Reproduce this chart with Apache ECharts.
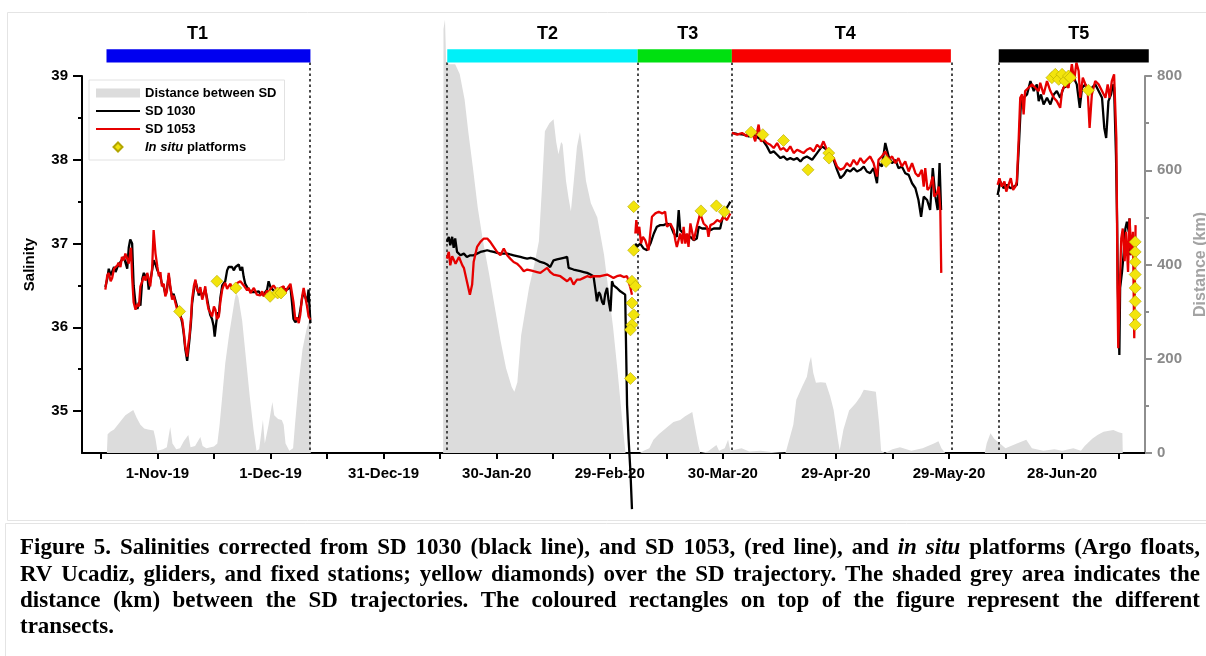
<!DOCTYPE html>
<html>
<head>
<meta charset="utf-8">
<script src="https://cdn.jsdelivr.net/npm/echarts@6/dist/echarts.min.js"></script>
<style>
html,body{margin:0;padding:0;background:#fff;}
#chart{width:1206px;height:656px;}
</style>
</head>
<body>
<div id="chart"></div>
<script>
// ---------------- DATA (x = days since 1-Nov-2019) ----------------
const tickDays = [-15,0,15,30,45,60,75,90,105,120,135,150,165,180,195,210,225,240,255];
const labelDays = [0,30,60,90,120,150,180,210,240];
const tickLabels = ['1-Nov-19','1-Dec-19','31-Dec-19','30-Jan-20','29-Feb-20','30-Mar-20','29-Apr-20','29-May-20','28-Jun-20'];

const transectNames = ['T1','T2','T3','T4','T5'];
const transectStart = [-13.5, 76.9, 127.4, 152.4, 223.2];
const transectEnd   = [40.6, 127.4, 152.4, 210.5, 263.0];
const boundaryDays  = [40.6, 76.9, 127.4, 152.4, 210.8, 223.2];

const salinityTicks = [35,36,37,38,39];
const salinityMinorTicks = [35.5,36.5,37.5,38.5];

const distance = [
 [-13.4,0],[-13.2,40],[-12.5,45],[-11.5,50],[-10.5,60],[-9.5,70],[-8.5,80],[-6.4,91],[-5.5,75],[-4.5,60],[-3.5,52],[-2.5,50],[-1.0,48],[-0.5,30],[0,5],[1.5,8],[2.5,12],[3.4,55],[4.0,20],[5,8],[6.0,10],[7.0,25],[8.2,38],[8.8,12],[10,15],[11.4,34],[12,15],[13,10],[15,14],[15.9,20],[16.5,60],[17.2,120],[18,190],[19,250],[20,300],[20.5,325],[20.9,340],[21.5,330],[22.5,280],[23.5,200],[24.5,120],[25.5,50],[26.3,5],[27,8],[28,70],[28.5,20],[29.5,60],[30.5,108],[31,80],[32,72],[33,70],[33.5,60],[34,20],[35,5],[36,10],[36.5,60],[37.5,150],[38.5,220],[39.5,260],[40.5,290],[40.7,0],
 [75.8,0],[75.9,900],[76.3,920],[76.6,830],[77.5,825],[79.0,825],[80.2,804],[81.5,750],[82.5,680],[83.7,606],[85,520],[86.4,449],[88,380],[89.5,310],[91,240],[92.5,180],[94,140],[94.7,130],[95.5,150],[96.5,250],[98.6,351],[100,400],[101.2,449],[102,560],[102.8,683],[104,700],[105.1,708],[105.8,660],[106.4,634],[107.1,660],[107.5,655],[108.4,577],[109.1,540],[109.7,513],[110.5,580],[111.3,650],[112.1,681],[112.8,640],[113.7,577],[115,530],[116.7,500],[118.5,420],[120.9,266],[122,180],[123.6,45],[124.2,0],
 [128,0],[129,5],[130.5,10],[131.6,28],[133,40],[135.3,55],[136.9,66],[138.7,70],[140,78],[141.9,87],[142.5,60],[143.4,21],[144,0],[146,3],[148.3,17],[149,5],[150.5,10],[151.4,28],[152,5],[155,10],[157,3],[160,5],[163,2],[166.6,0],[167,10],[168.7,60],[169.5,113],[171,140],[172.3,162],[172.9,190],[173.4,204],[174,170],[174.7,149],[176,150],[177.3,149],[178.5,120],[179.4,91],[180.5,30],[181,6],[181.5,5],[182,50],[183.5,90],[185.3,106],[186.5,120],[187.4,134],[189,132],[190.6,130],[191.5,60],[192,5],[193,0],[195,8],[197,12],[200,5],[203,10],[206,20],[207.2,25],[208,10],[209,0],
 [219.5,0],[220,20],[221,42],[222,30],[223.5,20],[225,10],[228,20],[230.5,28],[232,10],[235,5],[238,8],[240,5],[243,10],[245,5],[246,15],[248,30],[249.4,38],[251,45],[253.6,49],[255,44],[256,42],[256.1,0]
];

const sd1030 = [
 [-13.8,36.48],[-13.3,36.58],[-12.9,36.70],[-12.4,36.62],[-12.0,36.63],[-11.5,36.72],[-11.1,36.66],[-10.6,36.72],[-10.3,36.75],[-9.8,36.78],[-9.4,36.80],[-8.9,36.84],[-8.5,36.82],[-8.0,36.70],[-7.6,36.95],[-7.2,37.05],[-6.7,37.00],[-6.3,36.50],[-5.8,36.28],[-5.3,36.22],[-4.9,36.30],[-4.5,36.26],[-4.0,36.58],[-3.6,36.65],[-3.1,36.60],[-2.7,36.63],[-2.3,36.45],[-1.9,36.55],[-1.4,36.68],[-1.0,36.80],[-0.5,36.75],[0.0,36.68],[0.4,36.64],[0.8,36.60],[1.2,36.52],[1.7,36.48],[2.1,36.40],[2.5,36.45],[3.0,36.62],[3.4,36.48],[3.9,36.36],[4.3,36.40],[4.8,36.32],[5.2,36.25],[5.7,36.20],[6.1,36.15],[6.6,36.05],[7.0,35.92],[7.4,35.74],[7.9,35.60],[8.2,35.72],[8.5,35.85],[8.9,36.05],[9.2,36.28],[9.7,36.45],[10.1,36.55],[10.5,36.48],[11.0,36.38],[11.4,36.45],[11.9,36.36],[12.3,36.38],[12.7,36.45],[13.2,36.34],[13.6,36.24],[14.0,36.15],[14.5,36.10],[14.9,36.02],[15.2,35.89],[15.6,36.05],[16.0,36.18],[16.3,36.15],[16.7,36.35],[17.2,36.50],[17.6,36.52],[18.0,36.55],[18.5,36.68],[18.9,36.72],[19.4,36.70],[19.8,36.72],[20.3,36.68],[20.7,36.72],[21.2,36.70],[21.6,36.75],[22.0,36.68],[22.5,36.72],[22.9,36.60],[23.3,36.52],[23.8,36.48],[24.2,36.45],[24.7,36.43],[25.1,36.42],[25.6,36.44],[26.0,36.42],[26.4,36.40],[26.9,36.43],[27.3,36.40],[27.8,36.41],[28.2,36.39],[28.6,36.42],[29.1,36.45],[29.5,36.55],[30.0,36.48],[30.4,36.47],[30.8,36.44],[31.3,36.45],[31.7,36.40],[32.2,36.42],[32.6,36.44],[33.1,36.43],[33.5,36.46],[33.9,36.44],[34.4,36.45],[34.8,36.47],[35.3,36.48],[35.7,36.30],[36.1,36.10],[36.6,36.06],[37.0,36.08],[37.5,36.10],[37.9,36.20],[38.4,36.35],[38.8,36.42],[39.2,36.40],[39.7,36.30],[40.1,36.45],[40.6,36.05],
 [58,'-'],
 [76.8,37.02],[77.3,37.08],[77.7,36.98],[78.2,37.08],[78.6,36.95],[79.0,37.06],[79.5,36.90],[80.4,36.86],[81.3,36.88],[82.1,36.84],[83.0,36.86],[83.9,36.86],[84.8,36.88],[85.7,36.90],[86.6,36.91],[87.5,36.92],[88.3,36.91],[89.2,36.90],[90.1,36.89],[91.0,36.88],[91.9,36.88],[92.8,36.88],[93.6,36.87],[94.5,36.86],[95.4,36.85],[96.3,36.84],[97.2,36.83],[98.1,36.82],[99.0,36.83],[99.8,36.82],[100.7,36.80],[101.6,36.78],[102.5,36.77],[103.4,36.75],[104.2,36.72],[105.1,36.80],[106.0,36.81],[106.9,36.82],[107.8,36.83],[108.7,36.84],[109.1,36.71],[110.4,36.69],[111.3,36.68],[112.2,36.67],[113.1,36.66],[114.0,36.65],[114.9,36.63],[115.7,36.61],[116.2,36.45],[116.6,36.31],[117.1,36.42],[117.5,36.39],[118.0,36.30],[118.4,36.27],[118.8,36.40],[119.3,36.47],[119.7,36.32],[120.2,36.19],[120.6,36.55],[121.0,36.50],[121.9,36.47],[122.8,36.43],[123.3,36.41],[124.1,36.39],[124.6,35.07],[125.0,34.67],[125.5,34.27],[125.9,33.83],
 [126.3,'-'],
 [126.8,37.00],[127.2,36.96],[128.1,37.00],[129.0,36.94],[129.9,36.92],[130.8,37.00],[131.7,37.12],[132.5,37.20],[133.4,37.22],[134.3,37.22],[135.2,37.24],[136.1,37.22],[137.0,37.12],[137.8,37.08],[138.3,37.40],[138.7,37.16],[139.6,37.12],[140.5,37.06],[141.4,37.08],[142.3,37.04],[143.1,37.06],[143.6,37.20],[144.5,37.18],[145.8,37.18],[146.7,37.16],[147.6,37.18],[148.5,37.18],[149.3,37.18],[149.8,37.28],[150.7,37.40],[151.5,37.46],[152.0,37.50],
 [152.2,'-'],
 [152.4,38.32],[153.8,38.31],[155.5,38.30],[156.9,38.28],[158.2,38.30],[159.5,38.26],[160.8,38.22],[161.7,38.16],[162.6,38.08],[163.5,38.10],[164.4,38.06],[165.3,38.02],[166.1,38.04],[167.0,38.00],[167.9,38.02],[168.8,38.00],[169.7,38.02],[170.6,37.98],[171.4,38.02],[172.3,38.04],[173.7,38.00],[175.0,38.08],[176.3,38.16],[177.6,38.12],[178.5,38.08],[179.4,38.00],[180.3,37.88],[181.2,37.78],[182.1,37.82],[182.9,37.88],[183.8,37.86],[184.7,37.90],[185.6,37.86],[186.5,37.88],[187.4,37.92],[188.2,37.86],[189.1,37.84],[190.0,37.90],[190.9,37.72],[191.3,37.96],[192.2,37.92],[193.1,38.20],[194.0,38.04],[194.9,37.96],[195.8,38.00],[196.6,37.90],[197.5,37.92],[198.4,37.84],[199.3,37.82],[200.2,37.72],[201.1,37.66],[201.9,37.52],[202.6,37.32],[203.3,37.56],[204.2,37.52],[205.0,37.40],[205.7,37.90],[206.4,37.56],[207.0,37.40],[207.5,37.96],[207.9,37.40],
 [215,'-'],
 [222.9,37.58],[223.6,37.74],[224.5,37.66],[225.4,37.70],[226.3,37.66],[227.2,37.68],[228.0,37.70],[228.6,38.22],[229.1,38.70],[229.8,38.74],[230.7,38.78],[231.6,38.94],[232.5,38.82],[233.3,38.90],[233.8,38.70],[234.4,38.78],[235.1,38.66],[236.0,38.74],[236.9,38.66],[237.8,38.78],[238.6,38.82],[239.5,38.74],[240.4,38.86],[241.3,38.88],[242.2,38.94],[243.1,38.98],[243.9,38.90],[244.7,38.62],[245.3,38.86],[246.2,38.90],[247.0,38.78],[247.9,38.86],[248.8,38.90],[249.7,38.82],[250.6,38.74],[251.2,38.38],[251.7,38.26],[252.3,38.70],[253.0,38.78],[253.5,38.90],[253.8,38.86],[254.3,38.06],[254.6,37.26],[254.8,36.47],[255.2,35.67],[255.4,36.47],[255.9,36.66],[256.3,36.86],[256.8,37.18],[257.2,37.26],[257.7,37.14],[257.9,37.30],[258.1,36.86]
];

const sd1053 = [
 [-13.8,36.45],[-13.3,36.62],[-12.9,36.65],[-12.4,36.55],[-12.0,36.59],[-11.5,36.70],[-11.1,36.69],[-10.6,36.74],[-10.3,36.77],[-9.8,36.72],[-9.4,36.84],[-8.9,36.80],[-8.5,36.88],[-8.0,36.82],[-7.6,36.76],[-7.0,36.95],[-6.7,36.60],[-6.3,36.30],[-5.8,36.21],[-5.3,36.28],[-4.9,36.25],[-4.5,36.49],[-4.0,36.55],[-3.6,36.61],[-3.1,36.56],[-2.7,36.65],[-2.3,36.58],[-1.9,36.49],[-1.4,36.70],[-1.0,37.16],[-0.5,36.88],[0.0,36.72],[0.4,36.61],[0.8,36.66],[1.2,36.49],[1.7,36.52],[2.1,36.37],[2.5,36.42],[3.0,36.65],[3.4,36.50],[3.9,36.33],[4.3,36.38],[4.8,36.29],[5.2,36.22],[5.7,36.17],[6.1,36.12],[6.6,36.09],[7.0,35.95],[7.4,35.77],[7.9,35.65],[8.2,35.80],[8.5,35.89],[8.9,36.10],[9.2,36.33],[9.7,36.50],[10.1,36.57],[10.5,36.45],[11.0,36.41],[11.4,36.48],[11.9,36.33],[12.3,36.40],[12.7,36.49],[13.2,36.30],[13.6,36.21],[14.0,36.18],[14.5,36.13],[15.0,36.25],[15.4,36.21],[15.8,36.10],[16.3,36.13],[16.7,36.30],[17.2,36.45],[17.6,36.50],[18.0,36.53],[18.5,36.46],[18.9,36.49],[19.4,36.52],[19.8,36.45],[20.3,36.50],[20.7,36.47],[21.2,36.53],[21.6,36.51],[22.0,36.55],[22.5,36.55],[22.9,36.50],[23.3,36.49],[23.8,36.44],[24.2,36.47],[24.7,36.41],[25.1,36.43],[25.6,36.47],[26.0,36.45],[26.4,36.39],[26.9,36.41],[27.3,36.38],[27.8,36.43],[28.2,36.37],[28.6,36.39],[29.1,36.44],[29.5,36.41],[30.0,36.46],[30.4,36.45],[30.8,36.50],[31.3,36.47],[31.7,36.42],[32.2,36.43],[32.6,36.47],[33.1,36.45],[33.5,36.49],[33.9,36.41],[34.4,36.46],[34.8,36.45],[35.3,36.52],[35.7,36.51],[36.1,36.30],[36.6,36.09],[37.0,36.12],[37.5,36.05],[37.9,36.15],[38.4,36.37],[38.8,36.47],[39.2,36.45],[39.7,36.25],[40.1,36.13],[40.6,36.09],
 [58,'-'],
 [76.8,36.82],[77.3,36.90],[77.7,36.74],[78.2,36.85],[78.6,36.86],[79.1,36.76],[79.5,36.75],[80.0,36.84],[80.4,36.82],[80.9,36.74],[81.3,36.71],[82.1,36.55],[82.9,36.39],[83.5,36.51],[83.9,36.78],[84.8,36.96],[85.7,37.02],[86.6,37.06],[87.5,37.06],[88.3,37.02],[89.2,36.96],[90.1,36.90],[91.0,36.86],[91.9,36.94],[92.8,36.86],[93.6,36.82],[94.5,36.78],[95.4,36.76],[96.3,36.72],[97.2,36.67],[98.1,36.69],[99.0,36.68],[99.8,36.67],[100.7,36.66],[101.6,36.65],[102.5,36.68],[103.4,36.71],[104.2,36.66],[105.1,36.63],[106.0,36.62],[106.9,36.61],[107.8,36.58],[108.7,36.55],[109.6,36.59],[110.4,36.51],[111.3,36.57],[112.2,36.57],[113.1,36.59],[114.0,36.61],[114.9,36.60],[115.7,36.61],[116.6,36.61],[117.5,36.61],[118.4,36.62],[119.3,36.63],[120.2,36.61],[121.0,36.59],[121.9,36.61],[122.8,36.62],[123.7,36.60],[124.6,36.61],[125.5,36.47],[125.9,36.39],
 [126.3,'-'],
 [126.8,37.12],[127.05,37.28],[127.4,37.12],[127.85,37.20],[128.3,37.00],[128.8,37.08],[129.4,37.04],[130.3,36.92],[131.2,37.32],[132.1,37.36],[133.0,37.38],[133.9,37.36],[134.7,37.38],[135.2,37.20],[136.1,37.24],[137.0,37.16],[137.4,37.04],[137.8,36.96],[138.7,37.12],[139.2,37.00],[139.6,37.20],[140.05,37.00],[140.5,37.12],[140.9,36.96],[141.4,37.24],[142.3,37.04],[143.1,37.20],[144.0,37.36],[144.9,37.24],[145.8,37.20],[146.2,37.08],[146.7,37.22],[147.6,37.24],[148.5,37.28],[149.3,37.26],[150.2,37.32],[151.1,37.28],[152.0,37.36],
 [152.2,'-'],
 [152.4,38.32],[153.8,38.30],[155.1,38.32],[156.4,38.28],[157.7,38.34],[158.6,38.22],[159.5,38.42],[160.1,38.22],[160.8,38.24],[161.7,38.20],[162.6,38.18],[163.5,38.14],[164.4,38.20],[165.3,38.12],[166.1,38.14],[167.0,38.10],[167.9,38.16],[168.8,38.08],[169.7,38.12],[170.6,38.10],[171.4,38.08],[172.3,38.12],[173.2,38.14],[174.1,38.10],[175.0,38.18],[175.9,38.14],[176.7,38.22],[177.6,38.12],[178.5,38.06],[179.4,38.02],[180.3,37.92],[181.2,37.88],[182.1,37.90],[182.9,37.96],[183.8,37.92],[184.7,38.00],[185.6,37.94],[186.5,38.02],[187.4,37.96],[188.2,38.00],[189.1,38.04],[190.0,37.96],[190.9,37.80],[191.3,38.00],[192.2,38.04],[193.1,38.10],[194.0,38.00],[194.9,38.04],[195.8,37.96],[196.6,38.02],[197.5,37.92],[198.4,37.98],[199.3,37.86],[200.2,37.96],[201.1,37.84],[201.9,37.80],[202.8,37.88],[203.3,37.68],[203.7,37.90],[204.3,37.64],[205.0,37.68],[205.7,37.80],[206.1,37.56],[206.8,37.60],[207.3,37.68],[207.7,37.40],[207.95,36.65],
 [215,'-'],
 [222.9,37.70],[223.4,37.78],[224.0,37.68],[224.7,37.74],[225.2,37.62],[225.8,37.70],[226.4,37.78],[227.0,37.64],[227.6,37.68],[228.0,37.74],[228.5,38.26],[228.9,38.74],[229.4,38.78],[229.8,38.54],[230.2,38.82],[231.1,38.86],[232.0,38.90],[232.9,38.86],[233.8,38.82],[234.2,38.92],[235.1,38.78],[236.0,38.94],[236.9,38.82],[237.8,38.74],[238.6,38.70],[239.5,38.62],[240.0,38.82],[240.8,38.90],[241.7,38.86],[242.6,39.14],[243.2,38.94],[243.8,39.16],[244.4,39.06],[244.8,38.74],[245.5,38.98],[246.2,38.90],[246.8,38.82],[247.3,38.38],[247.9,38.78],[248.8,38.94],[249.7,38.90],[250.6,38.82],[251.5,38.74],[252.1,38.90],[252.6,38.74],[253.2,38.94],[253.8,39.02],[254.4,38.26],[254.55,37.46],[254.7,36.47],[254.9,35.75],[255.3,36.47],[255.7,37.06],[256.1,37.18],[256.6,36.79],[257.0,37.14],[257.5,36.66],[257.9,37.30],[258.4,36.86],[258.8,37.14],[259.15,35.87],[259.5,37.22]
];

const inSitu = [
 [5.9,36.19],[15.8,36.55],[20.8,36.47],[29.9,36.37],[31.9,36.41],[32.8,36.41],
 [126.35,37.44],[126.35,36.92],[125.9,36.55],[126.8,36.49],[125.9,36.29],[126.35,36.15],[125.9,36.03],[125.5,35.97],[125.5,35.39],
 [144.2,37.39],[148.3,37.45],[150.4,37.38],
 [157.5,38.33],[160.6,38.30],[166.1,38.23],[172.6,37.88],[178.1,38.08],[178.2,38.02],[193.3,37.98],
 [237.3,38.98],[238.2,39.02],[239.1,38.96],[240.0,39.02],[240.8,38.94],[241.7,39.00],[242.2,38.98],[247.0,38.83],
 [259.4,37.02],[259.4,36.90],[259.4,36.78],[259.4,36.63],[259.4,36.47],[259.4,36.31],[259.4,36.15],[259.4,36.03]
];

const captionLines = [
 [['Figure 5. Salinities corrected from SD 1030 (black line), and SD 1053, (red line), and', false], ['in situ', true], ['platforms (Argo floats,', false]],
 [['RV Ucadiz, gliders, and fixed stations; yellow diamonds) over the SD trajectory. The shaded grey area indicates the', false]],
 [['distance (km) between the SD trajectories. The coloured rectangles on top of the figure represent the different', false]],
 [['transects.', false]]
];

// ---------------- STYLE ----------------
const transectColors = ['#0000f0','#00f0f8','#00e010','#f80000','#000000'];
const transectLabelShift = [-11, 5, 3, 4, 5];
const SANS = '"Liberation Sans", Arial, sans-serif';
const SERIF = '"Liberation Serif", "Times New Roman", serif';
const BAR_TOP = 39.32, BAR_BOTTOM = 39.16, LABEL_Y = 39.5, DASH_TOP = 39.16, DASH_BOTTOM = 34.5;
const DIAMOND_ICON = 'path://M5,0 L10,5 L5,10 L0,5 Z';

// ---------------- CAPTION LAYOUT ----------------
const measureCtx = document.createElement('canvas').getContext('2d');
function fontFor(it){ return (it ? 'italic ' : '') + 'bold 23px ' + SERIF; }
const captionY = [548, 575, 601, 627];
const capLeft = 20, capRight = 1200;
const captionGraphics = [];
captionLines.forEach((line, li) => {
  const words = [];
  line.forEach(([txt, it]) => txt.split(' ').forEach(w => { if (w) words.push([w, it]); }));
  const widths = words.map(([w, it]) => { measureCtx.font = fontFor(it); return measureCtx.measureText(w).width; });
  const total = widths.reduce((a, b) => a + b, 0);
  measureCtx.font = fontFor(false);
  const normalSpace = measureCtx.measureText(' ').width;
  const justify = li < captionLines.length - 1;
  const gap = justify ? (capRight - capLeft - total) / (words.length - 1) : normalSpace;
  let x = capLeft;
  words.forEach(([w, it], i) => {
    captionGraphics.push({ type: 'text', x: x, y: captionY[li], silent: true,
      style: { text: w, font: fontFor(it), fill: '#000', verticalAlign: 'middle', align: 'left' } });
    x += widths[i] + gap;
  });
});

// ---------------- CHART ----------------
const chart = echarts.init(document.getElementById('chart'), null, { renderer: 'canvas' });

const option = {
  backgroundColor: '#ffffff',
  animation: false,
  grid: { left: 82, right: 61, top: 76, bottom: 203, outerBoundsMode: 'none' },
  legend: {
    orient: 'vertical', left: 89, top: 80, symbolKeepAspect: true,
    padding: [6, 8, 6, 6], itemGap: 4, itemWidth: 44, itemHeight: 9,
    backgroundColor: '#fff', borderColor: '#e2e2e2', borderWidth: 1, borderRadius: 0,
    textStyle: { fontFamily: SANS, fontWeight: 'bold', fontSize: 13, color: '#000', lineHeight: 14,
      rich: { it: { fontFamily: SANS, fontWeight: 'bold', fontStyle: 'italic', fontSize: 13, color: '#000' } } },
    formatter: name => name === 'In situ platforms' ? '{it|In situ} platforms' : name,
    data: [
      { name: 'Distance between SD', icon: 'rect', itemStyle: { color: '#dcdcdc' } },
      { name: 'SD 1030', itemStyle: { opacity: 0 } },
      { name: 'SD 1053', itemStyle: { opacity: 0 } },
      { name: 'In situ platforms', icon: DIAMOND_ICON }
    ]
  },
  xAxis: {
    type: 'value', min: -20, max: 262,
    axisLine: { show: true, onZero: false, lineStyle: { color: '#000', width: 2 } },
    axisTick: { show: true, customValues: tickDays, length: 6, lineStyle: { color: '#000', width: 2 } },
    axisLabel: { customValues: labelDays, margin: 13, fontFamily: SANS, fontWeight: 'bold', fontSize: 15, color: '#000',
      formatter: v => { const i = labelDays.indexOf(v); return i >= 0 ? tickLabels[i] : ''; } },
    splitLine: { show: false }
  },
  yAxis: [
    {
      type: 'value', position: 'left', min: 34.5, max: 39,
      name: 'Salinity', nameLocation: 'middle', nameRotate: 90, nameGap: 45,
      nameTextStyle: { fontFamily: SANS, fontWeight: 'bold', fontSize: 15, color: '#000' },
      axisLine: { show: true, onZero: false, lineStyle: { color: '#000', width: 2 } },
      axisTick: { show: true, customValues: salinityTicks, length: 9, lineStyle: { color: '#000', width: 2 } },
      axisLabel: { customValues: salinityTicks, margin: 14, fontFamily: SANS, fontWeight: 'bold', fontSize: 15, color: '#000' },
      splitLine: { show: false }
    },
    {
      type: 'value', position: 'right', min: 0, max: 800, interval: 200,
      name: 'Distance (km)', nameLocation: 'middle', nameRotate: 90, nameGap: 48,
      nameTextStyle: { fontFamily: SANS, fontWeight: 'bold', fontSize: 16, color: '#a3a3a3' },
      axisLine: { show: true, onZero: false, lineStyle: { color: '#8e8e8e', width: 2 } },
      axisTick: { show: true, length: 7, lineStyle: { color: '#8e8e8e', width: 2 } },
      minorTick: { show: true, splitNumber: 2, length: 4, lineStyle: { color: '#8e8e8e', width: 2 } },
      axisLabel: { margin: 12, fontFamily: SANS, fontWeight: 'bold', fontSize: 15, color: '#8a8a8a' },
      splitLine: { show: false }, minorSplitLine: { show: false }
    },
    {
      type: 'value', position: 'left', min: 34.5, max: 39, offset: 0,
      axisLine: { show: false, onZero: false },
      axisTick: { show: true, customValues: salinityMinorTicks, length: 4, lineStyle: { color: '#000', width: 2 } },
      axisLabel: { show: false }, splitLine: { show: false }
    }
  ],
  series: [
    {
      name: 'Distance between SD', type: 'line', yAxisIndex: 1, data: distance, z: 1,
      showSymbol: false, symbol: 'none', clip: false, color: '#dcdcdc',
      lineStyle: { width: 0, color: '#dcdcdc' }, areaStyle: { color: '#dcdcdc', opacity: 1 }
    },
    {
      name: 'boundaries', type: 'custom', xAxisIndex: 0, yAxisIndex: 0, z: 2, silent: true,
      data: boundaryDays.map(d => [d, DASH_TOP]), encode: { x: 0, y: 1 },
      renderItem: (params, api) => {
        const a = api.coord([api.value(0), DASH_TOP]);
        const b = api.coord([api.value(0), DASH_BOTTOM]);
        const x = Math.round(a[0]);
        return { type: 'line', shape: { x1: x, y1: a[1], x2: x, y2: b[1] },
          style: { stroke: '#4a4a4a', lineWidth: 2, lineDash: [2.5, 3] } };
      }
    },
    {
      name: 'SD 1030', type: 'line', data: sd1030, z: 3, showSymbol: false, symbol: 'none', clip: false,
      connectNulls: false, color: '#000', lineStyle: { color: '#000', width: 2.3 }
    },
    {
      name: 'SD 1053', type: 'line', data: sd1053, z: 3, showSymbol: false, symbol: 'none', clip: false,
      connectNulls: false, color: '#e60000', lineStyle: { color: '#e60000', width: 2.3 }
    },
    {
      name: 'In situ platforms', type: 'scatter', data: inSitu, z: 4, symbol: 'diamond', symbolSize: 12,
      clip: false, color: '#f2e40c',
      itemStyle: { color: '#f2e40c', borderColor: '#b3a600', borderWidth: 0.6, opacity: 1 }
    },
    {
      name: 'transects', type: 'custom', z: 5, silent: true,
      data: transectStart.map((s, i) => [s, transectEnd[i], BAR_TOP]), encode: { x: [0, 1], y: 2 },
      renderItem: (params, api) => {
        const i = params.dataIndex;
        const p0 = api.coord([api.value(0), BAR_TOP]);
        const p1 = api.coord([api.value(1), BAR_BOTTOM]);
        const pl = api.coord([(api.value(0) + api.value(1)) / 2, LABEL_Y]);
        return { type: 'group', children: [
          { type: 'rect', shape: { x: p0[0], y: p0[1], width: p1[0] - p0[0], height: p1[1] - p0[1] },
            style: { fill: transectColors[i] } },
          { type: 'text', style: { text: transectNames[i], x: pl[0] + transectLabelShift[i], y: pl[1], align: 'center', verticalAlign: 'middle',
            font: 'bold 18px ' + SANS, fill: '#000' } }
        ] };
      }
    }
  ],
  graphic: [
    { type: 'rect', z: -10, silent: true, shape: { x: 7.5, y: 12.5, width: 1220, height: 508 },
      style: { fill: null, stroke: '#e4e4e4', lineWidth: 1 } },
    { type: 'rect', z: -10, silent: true, shape: { x: 5.5, y: 523.5, width: 1220, height: 150 },
      style: { fill: null, stroke: '#e4e4e4', lineWidth: 1 } }
  ].concat(captionGraphics)
};

chart.setOption(option);
</script>
</body>
</html>
